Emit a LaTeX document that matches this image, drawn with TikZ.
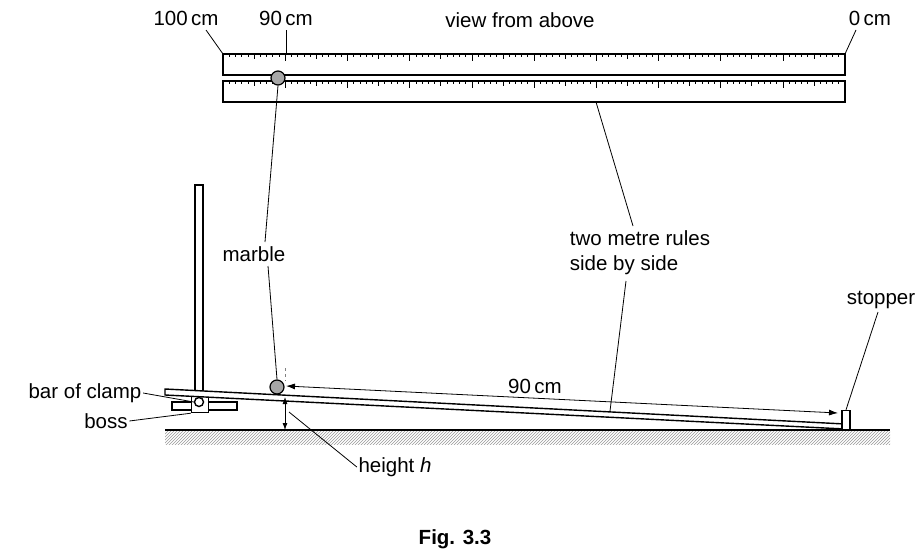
\documentclass[tikz,border=0pt]{standalone}
\usepackage{fontspec}
\setmainfont{Liberation Sans}
\usetikzlibrary{patterns,arrows.meta}
\begin{document}
\begin{tikzpicture}[x=1pt,y=-1pt,line width=1.4pt,
  lbl/.style={font=\fontsize{20.5}{25}\selectfont,inner sep=1pt},
  lead/.style={line width=0.8pt},
  marb/.style={circle,draw,fill=gray!70,minimum size=14pt,inner sep=0pt,line width=1.2pt}]
\useasboundingbox (0,0) rectangle (918,557);
% rulers
\foreach \y in {54,81}{
  \draw (223,\y) rectangle (845,\y+21);
  \foreach \i in {1,...,99}{
    \pgfmathsetmacro\xx{223+\i*6.22}
    \pgfmathsetmacro\len{ifthenelse(mod(\i,10)==0,7,ifthenelse(mod(\i,5)==0,5,3))}
    \draw[line width=0.6pt] (\xx,\y) -- (\xx,\y+\len);
  }
}
\node[marb] (mt) at (278,78) {};
\node[lbl] (t100) at (186,18) {100\,cm};
\node[lbl] (t90) at (286,18) {90\,cm};
\node[lbl] (t0) at (870,18) {0\,cm};
\node[lbl] (view) at (520,20) {view from above};
\coordinate (r100) at (223,54); \coordinate (r0) at (845,54);
\draw[lead] (206,30) -- (r100);
\draw[lead] (856,30) -- (r0);
\draw[lead] (286,30) -- (286,54);
% ground
\fill[pattern=north east lines,pattern color=gray!80] (165,431) rectangle (890,444);
\draw (165,430) -- (890,430);
% stand
\draw[fill=white] (195,185) rectangle (203,402);
\draw[fill=white] (172,402) rectangle (237,410);
\node[draw,fill=white,minimum size=17pt,inner sep=0pt] (boss) at (200,404) {};
\node[draw,circle,fill=white,minimum size=9pt,inner sep=0pt] (clamp) at (199,402) {};
% ramp
\draw[fill=white] (165,389) -- (845,424) -- (845,429) -- (165,395) -- cycle;
\node[draw,fill=white,minimum width=8pt,minimum height=19pt,inner sep=0pt] (stop) at (846,420) {};
\node[marb] (mb) at (277,387) {};
\draw[dashed,lead,gray] (285,368) -- (285,381);
\coordinate (a1) at (286,386); \coordinate (a2) at (838,413);
\draw[lead,{Latex[length=9pt,width=6pt]}-{Latex[length=9pt,width=6pt]}] (a1) -- (a2);
\node[lbl] (d90) at (535,386) {90\,cm};
\coordinate (h1) at (285,397); \coordinate (h2) at (285,430);
\draw[lead,{Latex[length=7pt,width=5pt]}-{Latex[length=7pt,width=5pt]}] (h1) -- (h2);
% labels
\node[lbl] (marble) at (254,254) {marble};
\draw[lead] (265,242) -- (mt.south);
\draw[lead] (268,266) -- (mb.north);
\node[lbl,align=left] (rules) at (640,253) {two metre rules\\side by side};
\draw[lead] (596,102) -- (633,226);
\draw[lead] (626,281) -- (610,411);
\node[lbl] (stopper) at (881,300) {stopper};
\draw[lead] (878,312) -- (stop.north);
\node[lbl] (bar) at (85,393) {bar of clamp};
\draw[lead] (bar.east) -- (clamp.west);
\node[lbl] (bosslbl) at (106,421) {boss};
\draw[lead] (bosslbl.east) -- (boss.south west);
\node[lbl] (hh) at (395,467) {height \textit{h}};
\draw[lead] (hh.west) -- (289,412);
\node[lbl,font=\fontsize{20.5}{25}\selectfont\bfseries] (fig) at (455,539) {Fig. 3.3};
\end{tikzpicture}
\end{document}
